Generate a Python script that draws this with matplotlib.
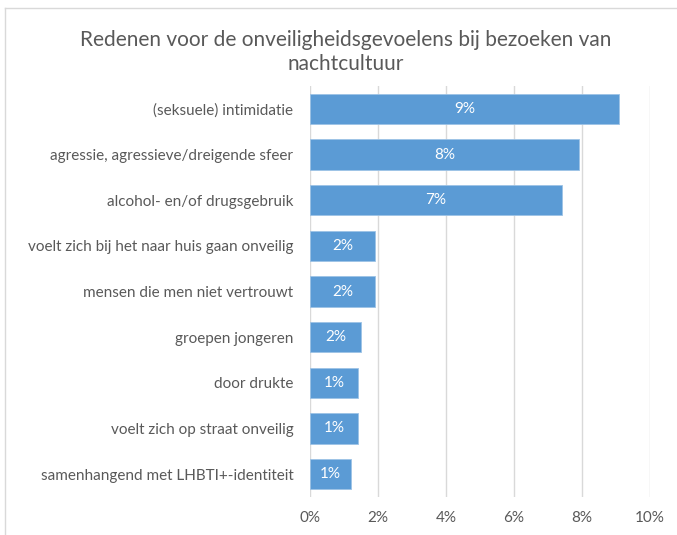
import matplotlib.pyplot as plt
from matplotlib.lines import Line2D

# data (in %)
categories = [
    "(seksuele) intimidatie",
    "agressie, agressieve/dreigende sfeer",
    "alcohol- en/of drugsgebruik",
    "voelt zich bij het naar huis gaan onveilig",
    "mensen die men niet vertrouwt",
    "groepen jongeren",
    "door drukte",
    "voelt zich op straat onveilig",
    "samenhangend met LHBTI+-identiteit",
]
values = [9.1, 7.9, 7.4, 1.9, 1.9, 1.5, 1.4, 1.4, 1.2]
xticks = [0, 2, 4, 6, 8, 10]

plt.rcParams['font.family'] = ['Lato', 'DejaVu Sans']
grey = "#595959"
blue = "#5B9BD5"

fig = plt.figure(figsize=(6.77, 5.35), dpi=100)
ax = fig.add_axes([310/677, 1 - 497/535, 340/677, 411/535])

ypos = list(range(len(categories)))[::-1]
ax.barh(ypos, values, height=0.66, color=blue, edgecolor="#9DC3E6", linewidth=0.6, zorder=3)
for y, v in zip(ypos, values):
    ax.text(v / 2, y, "%d%%" % round(v), ha="center", va="center",
            color="white", fontsize=11, zorder=4)

ax.set_xlim(0, 10)
ax.set_ylim(-0.5, len(categories) - 0.5)
ax.set_xticks(xticks)
ax.set_xticklabels(["%d%%" % t for t in xticks], color=grey, fontsize=11)
ax.set_yticks(ypos)
ax.set_yticklabels(categories, color=grey, fontsize=11)
ax.tick_params(axis="x", length=0, pad=10)
ax.tick_params(axis="y", length=0, pad=12)
ax.grid(axis="x", color="#D9D9D9", linewidth=1, zorder=0)
for s in ax.spines.values():
    s.set_visible(False)

fig.text(346/677, 1 - 40/535, "Redenen voor de onveiligheidsgevoelens bij bezoeken van",
         ha="center", va="center", color=grey, fontsize=15)
fig.text(346/677, 1 - 64/535, "nachtcultuur",
         ha="center", va="center", color=grey, fontsize=15)

# chart border
fig.add_artist(Line2D([5/677, 1], [1 - 8/535, 1 - 8/535], color="#D9D9D9", linewidth=1))
fig.add_artist(Line2D([5/677, 5/677], [0, 1 - 8/535], color="#D9D9D9", linewidth=1))

fig.savefig("out.png", dpi=100, facecolor="white")
